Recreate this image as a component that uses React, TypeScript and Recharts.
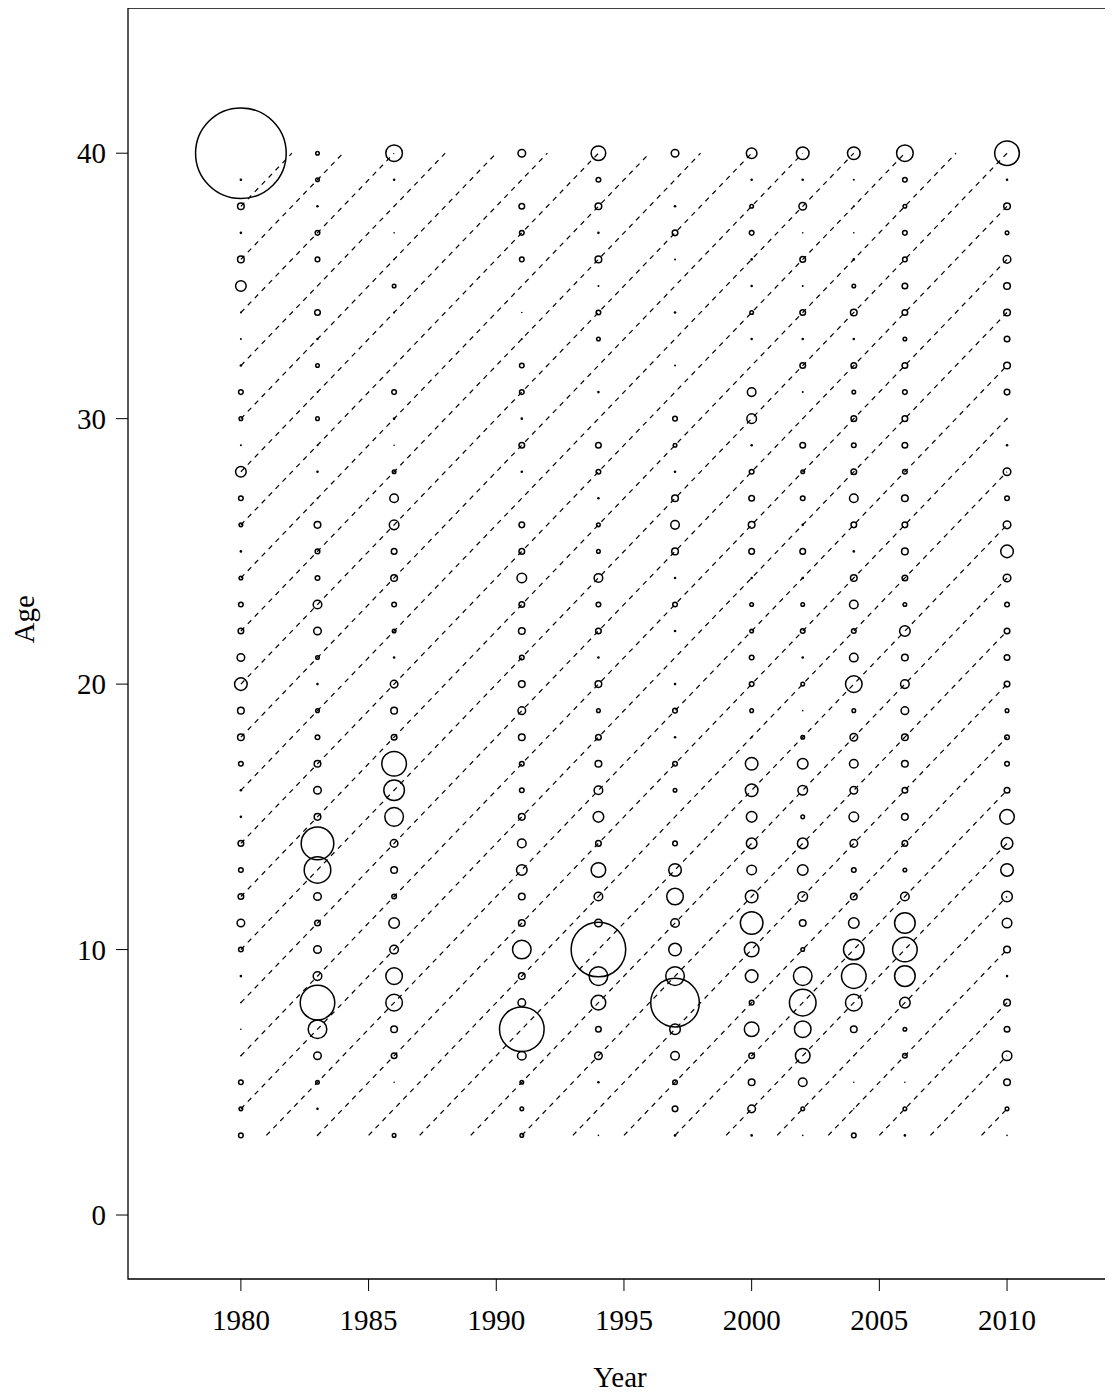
import React from 'react';
import {
  ScatterChart,
  Scatter,
  XAxis,
  YAxis,
  ReferenceLine,
  ReferenceArea,
} from 'recharts';

// survey years (columns of bubbles)
const years = [1980, 1983, 1986, 1991, 1994, 1997, 2000, 2002, 2004, 2006, 2010];
const minAge = 3;
const maxAge = 40;

// bubble radius by age, listed from age 3 up to age 40, one row per year
const y1980 = [2, 1.5, 2, 0.5, 0.5, 0.5, 1, 2, 3.5, 2.5, 2, 2.5, 1, 1, 2, 3, 3, 6, 3.5, 2.5, 2, 1.5, 1, 1.5, 2, 5, 0.7, 1.5, 2, 1, 0.7, 0.7, 5, 3, 1, 3, 1, 45];
const y1983 = [0.5, 1, 1.5, 3.5, 9, 17, 4, 3.5, 2.5, 3.5, 13, 16, 3, 3.5, 3, 2, 1.5, 1, 1.5, 3.5, 4, 2, 2, 3, 0.7, 1, 0.7, 1.5, 0.7, 1.5, 1, 2.5, 0, 2, 2, 1, 1.5, 1.5];
const y1986 = [1.5, 0, 0.5, 2.5, 3, 8, 8, 4, 5, 2, 3, 3.5, 9, 10, 12, 2.5, 3, 3.5, 1, 1.5, 2, 3, 2.5, 4.5, 4, 1.5, 0.5, 1, 2, 0, 0, 0.7, 1.5, 0.5, 0.5, 0, 1, 8];
const y1991 = [1.5, 1.5, 1.5, 4, 22, 3.5, 3, 9, 3, 3, 5, 4, 3, 2, 2, 3, 3.5, 3, 2, 3, 2.5, 4.5, 2.5, 2.5, 0, 1, 2.5, 1, 2, 2, 0.7, 0.5, 0, 2, 2, 2.5, 0, 3.5];
const y1994 = [0.5, 0, 1, 3.5, 2.5, 7, 9, 27, 3.5, 4, 7, 2.5, 5, 4, 3, 2.5, 1.5, 3, 1, 2.5, 2, 4, 1.5, 1.5, 1, 2, 2.5, 0, 1, 0, 1.5, 2, 0.7, 3, 1, 3, 2, 7];
const y1997 = [1, 2.5, 2, 4, 5, 24, 9, 6, 4, 8, 6, 2, 0, 1.5, 2, 1, 2, 1, 0, 1, 2, 1, 3, 4, 3, 1, 1.5, 2, 0, 0.7, 0, 1, 0, 0.7, 2.5, 1, 0, 3.5];
const y2000 = [1, 3.5, 3, 2.5, 7, 2, 6, 7, 11, 6, 4.5, 5, 5, 6, 6, 0.7, 1.5, 2, 2, 1.5, 1.5, 1, 2.5, 3, 2.5, 2, 1, 4.5, 4, 0, 1, 1.5, 1, 1, 2, 1.5, 1, 5];
const y2002 = [0.5, 1.5, 4, 7, 8, 13, 9, 1.5, 3, 4.5, 5, 5, 1.5, 4.5, 5, 1.5, 0.5, 1.5, 1, 2, 1.5, 1, 2.5, 1, 2, 1.5, 2.5, 0.3, 0.7, 2.5, 1, 2.5, 0.7, 2.5, 0.5, 3.5, 1, 6];
const y2004 = [2, 0.5, 0.5, 0.5, 3, 8, 12, 10, 5, 3, 2, 3.5, 4.5, 3.5, 4, 3.5, 1.5, 8, 4, 2, 4, 3, 1, 2.5, 4, 2.5, 2, 2.5, 1.5, 2.5, 1, 3, 1.5, 1, 0.5, 0.7, 0.7, 6];
const y2006 = [1, 1.5, 0.5, 2, 1.5, 5, 10, 12, 10, 4, 1.5, 2.5, 3, 2.5, 3, 3, 3.5, 4, 3, 5, 1.5, 2.5, 3, 2.5, 3, 2, 2.5, 2.5, 2, 2.5, 1.5, 2.5, 2.5, 2, 2, 1.5, 2, 8];
const y2010 = [0.5, 1.5, 3, 4.5, 2.5, 3, 1, 3, 4.5, 5, 6, 5.5, 7, 2.5, 2, 2, 1.5, 2.5, 2.5, 2.5, 2, 3.5, 6, 3.5, 2, 3.5, 1, 0.5, 2.5, 3, 2.5, 3, 3, 3.5, 1.5, 3, 1, 12];

const bubbleRows = [y1980, y1983, y1986, y1991, y1994, y1997, y2000, y2002, y2004, y2006, y2010];

// birth years of the cohorts traced by dashed diagonals (every other year)
const cohorts: number[] = [];
for (let c = 1940; c <= 2006; c += 2) cohorts.push(c);

const xTicks = [1980, 1985, 1990, 1995, 2000, 2005, 2010];
const yTicks = [0, 10, 20, 30, 40];

const points = years.flatMap((year, i) =>
  bubbleRows[i].map((r, k) => ({ year, age: minAge + k, r }))
);

const FONT = '"Liberation Serif", "DejaVu Serif", serif';

const Bubble = (props: any) => {
  const { cx, cy, payload } = props;
  const r = payload.r;
  if (!r || r <= 0) return null;
  if (r < 1.2) return <circle cx={cx} cy={cy} r={r + 0.3} fill="#000" />;
  return <circle cx={cx} cy={cy} r={r + 0.3} fill="none" stroke="#000" strokeWidth={1.5} />;
};

export default function App() {
  return (
    <div style={{ width: 1105, height: 1391, background: '#fff' }}>
      <ScatterChart width={1105} height={1391} margin={{ top: 0, right: 1, bottom: 0, left: 0 }}>
        <XAxis
          type="number"
          dataKey="year"
          domain={[1975.58, 2014.11]}
          ticks={xTicks}
          allowDataOverflow
          height={120}
          axisLine={false}
          tickSize={12}
          tickLine={{ stroke: '#000' }}
          tick={{ fill: '#000', fontSize: 29, fontFamily: FONT, dy: 16 }}
          label={{ value: 'Year', position: 'insideBottom', offset: 12, fill: '#000', fontSize: 29, fontFamily: FONT } as any}
        />
        <YAxis
          type="number"
          dataKey="age"
          domain={[-2.41, 45.47]}
          ticks={yTicks}
          allowDataOverflow
          width={120}
          axisLine={false}
          tickSize={12}
          tickLine={{ stroke: '#000' }}
          tick={{ fill: '#000', fontSize: 29, fontFamily: FONT, dx: -8 }}
          label={{ value: 'Age', angle: -90, position: 'insideLeft', offset: 16, fill: '#000', fontSize: 29, fontFamily: FONT } as any}
        />
        <ReferenceArea x1={1975.58} x2={2014.11} y1={-2.41} y2={45.47} fill="none" stroke="#000" strokeWidth={1.3} ifOverflow="visible" />
        {cohorts.map((c) => {
          const x1 = Math.max(1980, c + minAge);
          const x2 = Math.min(2010, c + maxAge);
          if (x2 <= x1) return null;
          return (
            <ReferenceLine
              key={c}
              segment={[{ x: x1, y: x1 - c }, { x: x2, y: x2 - c }]}
              stroke="#000"
              strokeWidth={1.2}
              strokeDasharray="5 5"
            />
          );
        })}
        <Scatter data={points} shape={Bubble} isAnimationActive={false} />
      </ScatterChart>
    </div>
  );
}
